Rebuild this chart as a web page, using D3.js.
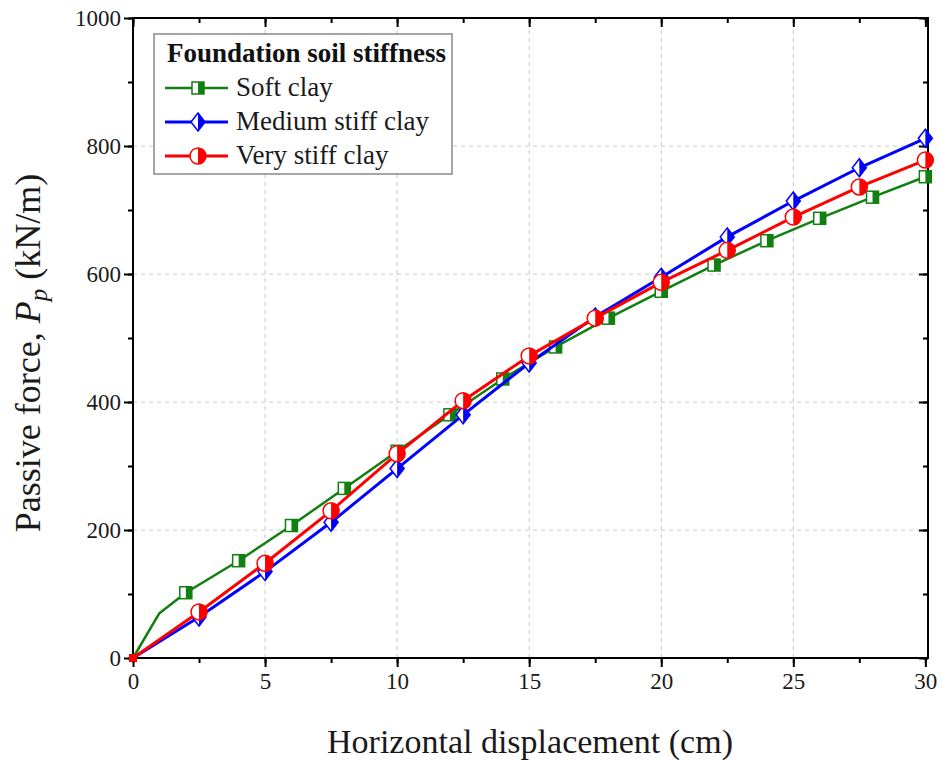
<!DOCTYPE html>
<html>
<head>
<meta charset="utf-8">
<script src="https://cdn.jsdelivr.net/npm/d3@7"></script>
<style>
	body { margin: 0; background: #fff; }
	text { font-family: "Liberation Serif", "Times New Roman", serif; }
</style>
</head>
<body>
<div id="chart"></div>
<script>
// datos
var seriesNames = ["Soft clay", "Medium stiff clay", "Very stiff clay"];
var softX = [0, 1, 2, 4, 6, 8, 10, 12, 14, 16, 18, 20, 22, 24, 26, 28, 30];
var softY = [0, 70, 102, 152, 207, 265, 323, 380, 436, 486, 531, 573, 614, 652, 687, 720, 752];
var softMarked = [false, false, true, true, true, true, true, true, true, true, true, true, true, true, true, true, true];
var stiffX = [0, 2.5, 5, 7.5, 10, 12.5, 15, 17.5, 20, 22.5, 25, 27.5, 30];
var mediumY = [0, 64, 135, 212, 296, 380, 461, 533, 595, 658, 714, 766, 812];
var veryY = [0, 72, 148, 230, 319, 402, 472, 531, 587, 637, 689, 736, 778];
var xTicks = [0, 5, 10, 15, 20, 25, 30];
var yTicks = [0, 200, 400, 600, 800, 1000];

var W = 942, H = 762;
var margin = {left: 133, top: 18, right: 14, bottom: 104};
var x = d3.scaleLinear().domain([0, 30.1]).range([margin.left, W - margin.right]);
var y = d3.scaleLinear().domain([0, 1000]).range([H - margin.bottom, margin.top]);

var svg = d3.select("#chart").append("svg").attr("width", W).attr("height", H);

// rejilla
svg.append("g").selectAll("line.gx")
	.data(xTicks.slice(1, -1))
	.enter().append("line")
	.attr("x1", function(d) { return x(d); }).attr("x2", function(d) { return x(d); })
	.attr("y1", y(0)).attr("y2", y(1000))
	.attr("stroke", "#c8c8c8").attr("stroke-width", 1).attr("stroke-dasharray", "4,4");
svg.append("g").selectAll("line.gy")
	.data(yTicks.slice(1, -1))
	.enter().append("line")
	.attr("y1", function(d) { return y(d); }).attr("y2", function(d) { return y(d); })
	.attr("x1", x.range()[0]).attr("x2", x.range()[1])
	.attr("stroke", "#c8c8c8").attr("stroke-width", 1).attr("stroke-dasharray", "4,4");

// ejes
var xMinor = d3.range(0, 30.1, 2.5);
var yMinor = d3.range(0, 1001, 100);
function styleAxis(g) {
	g.select(".domain").remove();
	g.selectAll("line").attr("stroke", "#000").attr("stroke-width", 2);
	g.selectAll("text").attr("font-size", "23px").attr("fill", "#1a1a1a");
}
svg.append("g").attr("transform", "translate(0," + y(0) + ")")
	.call(d3.axisBottom(x).tickValues(xMinor).tickSize(5).tickFormat(""))
	.call(styleAxis);
svg.append("g").attr("transform", "translate(0," + y(0) + ")")
	.call(d3.axisBottom(x).tickValues(xTicks).tickSize(9).tickPadding(6).tickFormat(d3.format("d")))
	.call(styleAxis);
svg.append("g").attr("transform", "translate(" + x(0) + ",0)")
	.call(d3.axisLeft(y).tickValues(yMinor).tickSize(5).tickFormat(""))
	.call(styleAxis);
svg.append("g").attr("transform", "translate(" + x(0) + ",0)")
	.call(d3.axisLeft(y).tickValues(yTicks).tickSize(9).tickPadding(3).tickFormat(d3.format("d")))
	.call(styleAxis);
// ejes espejo (ticks hacia adentro)
svg.append("g").attr("transform", "translate(0," + y(1000) + ")")
	.call(d3.axisBottom(x).tickValues(xMinor).tickSize(5).tickFormat(""))
	.call(styleAxis);
svg.append("g").attr("transform", "translate(0," + y(1000) + ")")
	.call(d3.axisBottom(x).tickValues(xTicks).tickSize(9).tickFormat(""))
	.call(styleAxis);
svg.append("g").attr("transform", "translate(" + x.range()[1] + ",0)")
	.call(d3.axisLeft(y).tickValues(yMinor).tickSize(5).tickFormat(""))
	.call(styleAxis);
svg.append("g").attr("transform", "translate(" + x.range()[1] + ",0)")
	.call(d3.axisLeft(y).tickValues(yTicks).tickSize(9).tickFormat(""))
	.call(styleAxis);

svg.append("rect")
	.attr("x", x.range()[0]).attr("y", y(1000))
	.attr("width", x.range()[1] - x.range()[0]).attr("height", y(0) - y(1000))
	.attr("fill", "none").attr("stroke", "#000").attr("stroke-width", 2);

// titulos
svg.append("text")
	.attr("x", 530).attr("y", 753)
	.attr("text-anchor", "middle").attr("font-size", "34px").attr("fill", "#1a1a1a")
	.text("Horizontal displacement (cm)");
var yt = svg.append("text")
	.attr("transform", "translate(40,353) rotate(-90)")
	.attr("text-anchor", "middle").attr("font-size", "36px").attr("fill", "#1a1a1a");
yt.append("tspan").text("Passive force, ");
yt.append("tspan").attr("font-style", "italic").text("P");
yt.append("tspan").attr("font-style", "italic").attr("font-size", "25px").attr("dy", 7).text("p");
yt.append("tspan").attr("dy", -7).text(" (kN/m)");

// marcadores medio rellenos
var defs = svg.append("defs");
defs.append("clipPath").attr("id", "halfR").append("rect")
	.attr("x", 0).attr("y", -20).attr("width", 20).attr("height", 40);

function marker(g, kind, color) {
	var shape;
	if (kind == "square") {
		shape = function(s) { return s.append("rect").attr("x", -6).attr("y", -6).attr("width", 12).attr("height", 12); };
	} else if (kind == "diamond") {
		shape = function(s) { return s.append("path").attr("d", "M0,-9L7,0L0,9L-7,0Z"); };
	} else {
		shape = function(s) { return s.append("circle").attr("r", 8); };
	}
	shape(g).attr("fill", "#fff").attr("stroke", "none");
	shape(g).attr("fill", color).attr("stroke", "none").attr("clip-path", "url(#halfR)");
	shape(g).attr("fill", "none").attr("stroke", color).attr("stroke-width", 1.5);
}

var series = [
	{name: seriesNames[0], xs: softX, ys: softY, marked: softMarked, color: "#108010", kind: "square", width: 2.5},
	{name: seriesNames[1], xs: stiffX, ys: mediumY, marked: null, color: "#0000ff", kind: "diamond", width: 3},
	{name: seriesNames[2], xs: stiffX, ys: veryY, marked: null, color: "#ff0000", kind: "circle", width: 3}
];

var line = d3.line()
	.x(function(d) { return x(d[0]); })
	.y(function(d) { return y(d[1]); });

series.forEach(function(s) {
	var pts = s.xs.map(function(v, i) { return [v, s.ys[i]]; });
	svg.append("path").datum(pts)
		.attr("d", line)
		.attr("fill", "none").attr("stroke", s.color).attr("stroke-width", s.width)
		.attr("stroke-linejoin", "round");
	svg.append("g").selectAll("g.pt")
		.data(pts.filter(function(d, i) { return i > 0 && (!s.marked || s.marked[i]); }))
		.enter().append("g")
		.attr("transform", function(d) { return "translate(" + x(d[0]) + "," + y(d[1]) + ")"; })
		.each(function() { marker(d3.select(this), s.kind, s.color); });
	// el origen sin marcador completo
	svg.append("rect").attr("x", x(0) - 4).attr("y", y(0) - 4).attr("width", 8).attr("height", 8).attr("fill", s.color);
});

// leyenda
var leg = svg.append("g").attr("transform", "translate(154,34)");
leg.append("rect").attr("width", 298).attr("height", 140)
	.attr("fill", "#fff").attr("stroke", "#888").attr("stroke-width", 1.5);
leg.append("text").attr("x", 13).attr("y", 28)
	.attr("font-size", "27px").attr("font-weight", "bold").attr("fill", "#111")
	.text("Foundation soil stiffness");
series.forEach(function(s, i) {
	var cy = 54 + i * 34;
	leg.append("line").attr("x1", 11).attr("x2", 74).attr("y1", cy).attr("y2", cy)
		.attr("stroke", s.color).attr("stroke-width", s.width);
	marker(leg.append("g").attr("transform", "translate(44," + cy + ")"), s.kind, s.color);
	leg.append("text").attr("x", 82).attr("y", cy + 8)
		.attr("font-size", "27px").attr("fill", "#1a1a1a").text(s.name);
});
</script>
</body>
</html>
